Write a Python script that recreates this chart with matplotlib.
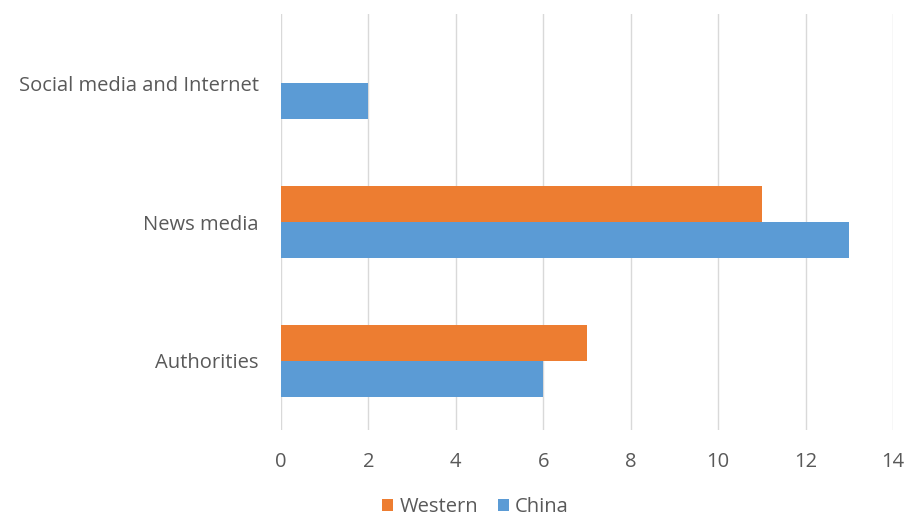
import numpy as np
import matplotlib.pyplot as plt

categories = ['Authorities', 'News media', 'Social media and Internet']
western = [7, 11, 0]
china = [6, 13, 2]

plt.rcParams['font.family'] = ['Open Sans', 'DejaVu Sans']

fig = plt.figure(figsize=(9.1, 5.19), dpi=100)
ax = fig.add_axes([0.3088, 0.1715, 0.6725, 0.8015])

y = np.arange(len(categories))
h = 0.26
ax.barh(y + h / 2, western, height=h, color='#ED7D31', label='Western', zorder=3)
ax.barh(y - h / 2, china, height=h, color='#5B9BD5', label='China', zorder=3)

ax.set_xlim(0, 14)
ax.set_ylim(-0.5, 2.5)
ax.set_xticks(range(0, 15, 2))
ax.set_yticks(y)
ax.set_yticklabels(categories)
ax.grid(axis='x', color='#D9D9D9', linewidth=1, zorder=0)
for s in ax.spines.values():
    s.set_visible(False)
ax.tick_params(length=0, labelsize=14.5, labelcolor='#595959')
ax.tick_params(axis='x', pad=16)
ax.tick_params(axis='y', pad=16)

ax.legend(loc='center', bbox_to_anchor=(0.318, -0.186), ncol=2, frameon=False,
          fontsize=14.5, handlelength=0.55, handleheight=0.55, handletextpad=0.3,
          columnspacing=1.0, labelcolor='#595959', borderpad=0.2)

fig.savefig('out.png', dpi=100)
